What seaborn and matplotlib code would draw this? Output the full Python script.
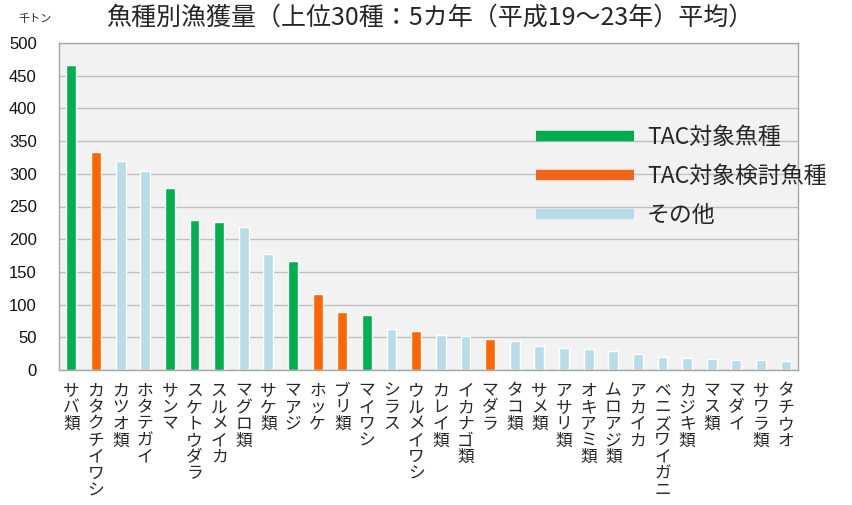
"""
Fish catch by species (top 30, 5-year average, H19-H23) as a bar chart.
"""

import matplotlib
matplotlib.use("Agg")
import matplotlib.pyplot as plt
from matplotlib.lines import Line2D
import pandas as pd
import seaborn as sns

# ---------------------------------------------------------------------------
# Data (thousand tonnes)
# ---------------------------------------------------------------------------
species = ["サバ類", "カタクチイワシ", "カツオ類", "ホタテガイ", "サンマ",
           "スケトウダラ", "スルメイカ", "マグロ類", "サケ類", "マアジ",
           "ホッケ", "ブリ類", "マイワシ", "シラス", "ウルメイワシ",
           "カレイ類", "イカナゴ類", "マダラ", "タコ類", "サメ類",
           "アサリ類", "オキアミ類", "ムロアジ類", "アカイカ", "ベニズワイガニ",
           "カジキ類", "マス類", "マダイ", "サワラ類", "タチウオ"]
catch = [467, 333, 320, 304, 278, 230, 226, 218, 177, 167,
         116, 89, 84, 63, 60, 53, 52, 47, 45, 36,
         33, 32, 29, 25, 20, 18, 17, 16, 15, 14]
tac_species = ["サバ類", "サンマ", "スケトウダラ", "スルメイカ", "マアジ", "マイワシ"]
tac_review = ["カタクチイワシ", "ホッケ", "ブリ類", "ウルメイワシ", "マダラ"]

groups = ["TAC対象魚種", "TAC対象検討魚種", "その他"]
colors = ["#00B050", "#FF6600", "#B7DDE8"]
legend_colors = ["#00AC50", "#F26519", "#B7DDE8"]

JP_FONT = ["Noto Sans CJK JP", "DejaVu Sans"]

sns.set_style("white")
plt.rcParams["font.family"] = JP_FONT


def group_of(name):
    if name in tac_species:
        return groups[0]
    if name in tac_review:
        return groups[1]
    return groups[2]


df = pd.DataFrame({"species": species, "catch": catch})
df["group"] = df["species"].map(group_of)

fig = plt.figure(figsize=(8.53, 5.05), dpi=100)
ax = fig.add_axes([59 / 853, 1 - 370 / 505, 739 / 853, 327 / 505])
ax.set_facecolor("#F2F2F2")

sns.barplot(data=df, x="species", y="catch", hue="group", hue_order=groups,
            palette=dict(zip(groups, colors)), dodge=False, width=0.4,
            saturation=1, legend=False, ax=ax)

ax.set_ylim(0, 500)
ax.set_xlim(-0.5, len(species) - 0.5)
ax.set_yticks(range(0, 501, 50))
ax.yaxis.grid(True, color="#BFBFBF", linewidth=1)
ax.set_axisbelow(True)
for s in ax.spines.values():
    s.set_color("#A6A6A6")
    s.set_linewidth(1)
ax.tick_params(axis="both", length=0)
ax.tick_params(axis="y", pad=16)
for lbl in ax.get_yticklabels():
    lbl.set_fontfamily(["Liberation Sans", "DejaVu Sans"])
    lbl.set_fontsize(12)
    lbl.set_color("#111111")

# vertical (one character per line) species labels
ax.set_xticks(range(len(species)))
ax.set_xticklabels(["\n".join(n) for n in species], fontsize=12,
                   linespacing=0.97, va="top")
ax.tick_params(axis="x", pad=9)
ax.set_xlabel("")
ax.set_ylabel("")

handles = [Line2D([], [], color=c, lw=7.5, solid_capstyle="butt") for c in legend_colors]
ax.legend(handles, groups, loc="upper left", bbox_to_anchor=(0.645, 0.745),
          frameon=False, fontsize=16.5, handlelength=4.3, handletextpad=0.55,
          labelspacing=0.68, borderpad=0, borderaxespad=0)

fig.text(430 / 853, 1 - 18 / 505, "魚種別漁獲量（上位30種：5カ年（平成19～23年）平均）",
         ha="center", va="center", fontsize=18)
fig.text(35 / 853, 1 - 19 / 505, "千トン", ha="center", va="center", fontsize=8)

fig.savefig("out.png", dpi=100)
